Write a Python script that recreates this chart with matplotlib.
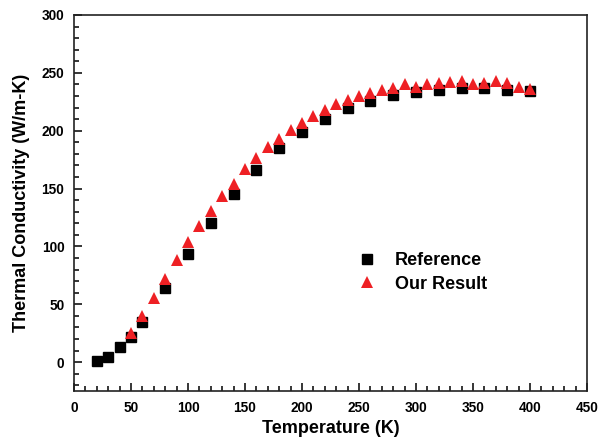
import matplotlib
matplotlib.use("Agg")
import matplotlib.pyplot as plt
from matplotlib.ticker import MultipleLocator

plt.rcParams['font.family'] = ['Liberation Sans', 'DejaVu Sans']
plt.rcParams['font.weight'] = 'bold'

ref_T = [20, 30, 40, 50, 60, 80, 100, 120, 140, 160, 180, 200, 220, 240,
         260, 280, 300, 320, 340, 360, 380, 400]
ref_k = [1.2, 4.8, 12.6, 22, 35, 64, 93, 120, 145, 166, 185, 199, 210, 220,
         226, 230.5, 233.5, 235.5, 237, 237, 235, 234]

our_T = [50, 60, 70, 80, 90, 100, 110, 120, 130, 140, 150, 160, 170, 180,
         190, 200, 210, 220, 230, 240, 250, 260, 270, 280, 290, 300, 310,
         320, 330, 340, 350, 360, 370, 380, 390, 400]
our_k = [25, 40, 55, 72, 88, 104, 118, 130.5, 143.5, 154, 167, 176.5, 186,
         193, 201, 207, 213, 217.5, 223, 226.5, 230, 233, 235, 237, 240,
         238, 240, 241, 242, 243, 240.5, 241, 243, 241, 238, 236]

fig = plt.figure(figsize=(6.07, 4.37), dpi=100)
ax = fig.add_axes([74/607, 1-391/437, (587-74)/607, (391-15)/437])

ax.plot(ref_T, ref_k, linestyle='none', marker='s', markersize=6.8,
        color='black', label='Reference')
ax.plot(our_T, our_k, linestyle='none', marker='^', markersize=9,
        color='#ee2024', markeredgewidth=0, label='Our Result')

ax.set_xlim(0, 450)
ax.set_ylim(-25, 300)
ax.xaxis.set_major_locator(MultipleLocator(50))
ax.xaxis.set_minor_locator(MultipleLocator(10))
ax.yaxis.set_major_locator(MultipleLocator(50))
ax.yaxis.set_minor_locator(MultipleLocator(10))
ax.tick_params(which='both', direction='in', top=False, right=False,
               width=1.1, labelsize=9.8, pad=7)
ax.tick_params(which='major', length=6)
ax.tick_params(which='minor', length=3.5)
for s in ax.spines.values():
    s.set_linewidth(1.2)
    s.set_color('#222222')
for lbl in ax.get_xticklabels() + ax.get_yticklabels():
    lbl.set_fontweight('bold')

ax.set_xlabel('Temperature (K)', fontsize=13, fontweight='bold', labelpad=4)
ax.set_ylabel('Thermal Conductivity (W/m-K)', fontsize=13, fontweight='bold', labelpad=8)

leg = ax.legend(loc='center left', bbox_to_anchor=(0.536, 0.315), frameon=False,
                prop={'weight': 'bold', 'size': 13}, handletextpad=0.55,
                handlelength=2.0, labelspacing=0.35, borderpad=0.0,
                borderaxespad=0.0)

fig.savefig('out.png', dpi=100)
